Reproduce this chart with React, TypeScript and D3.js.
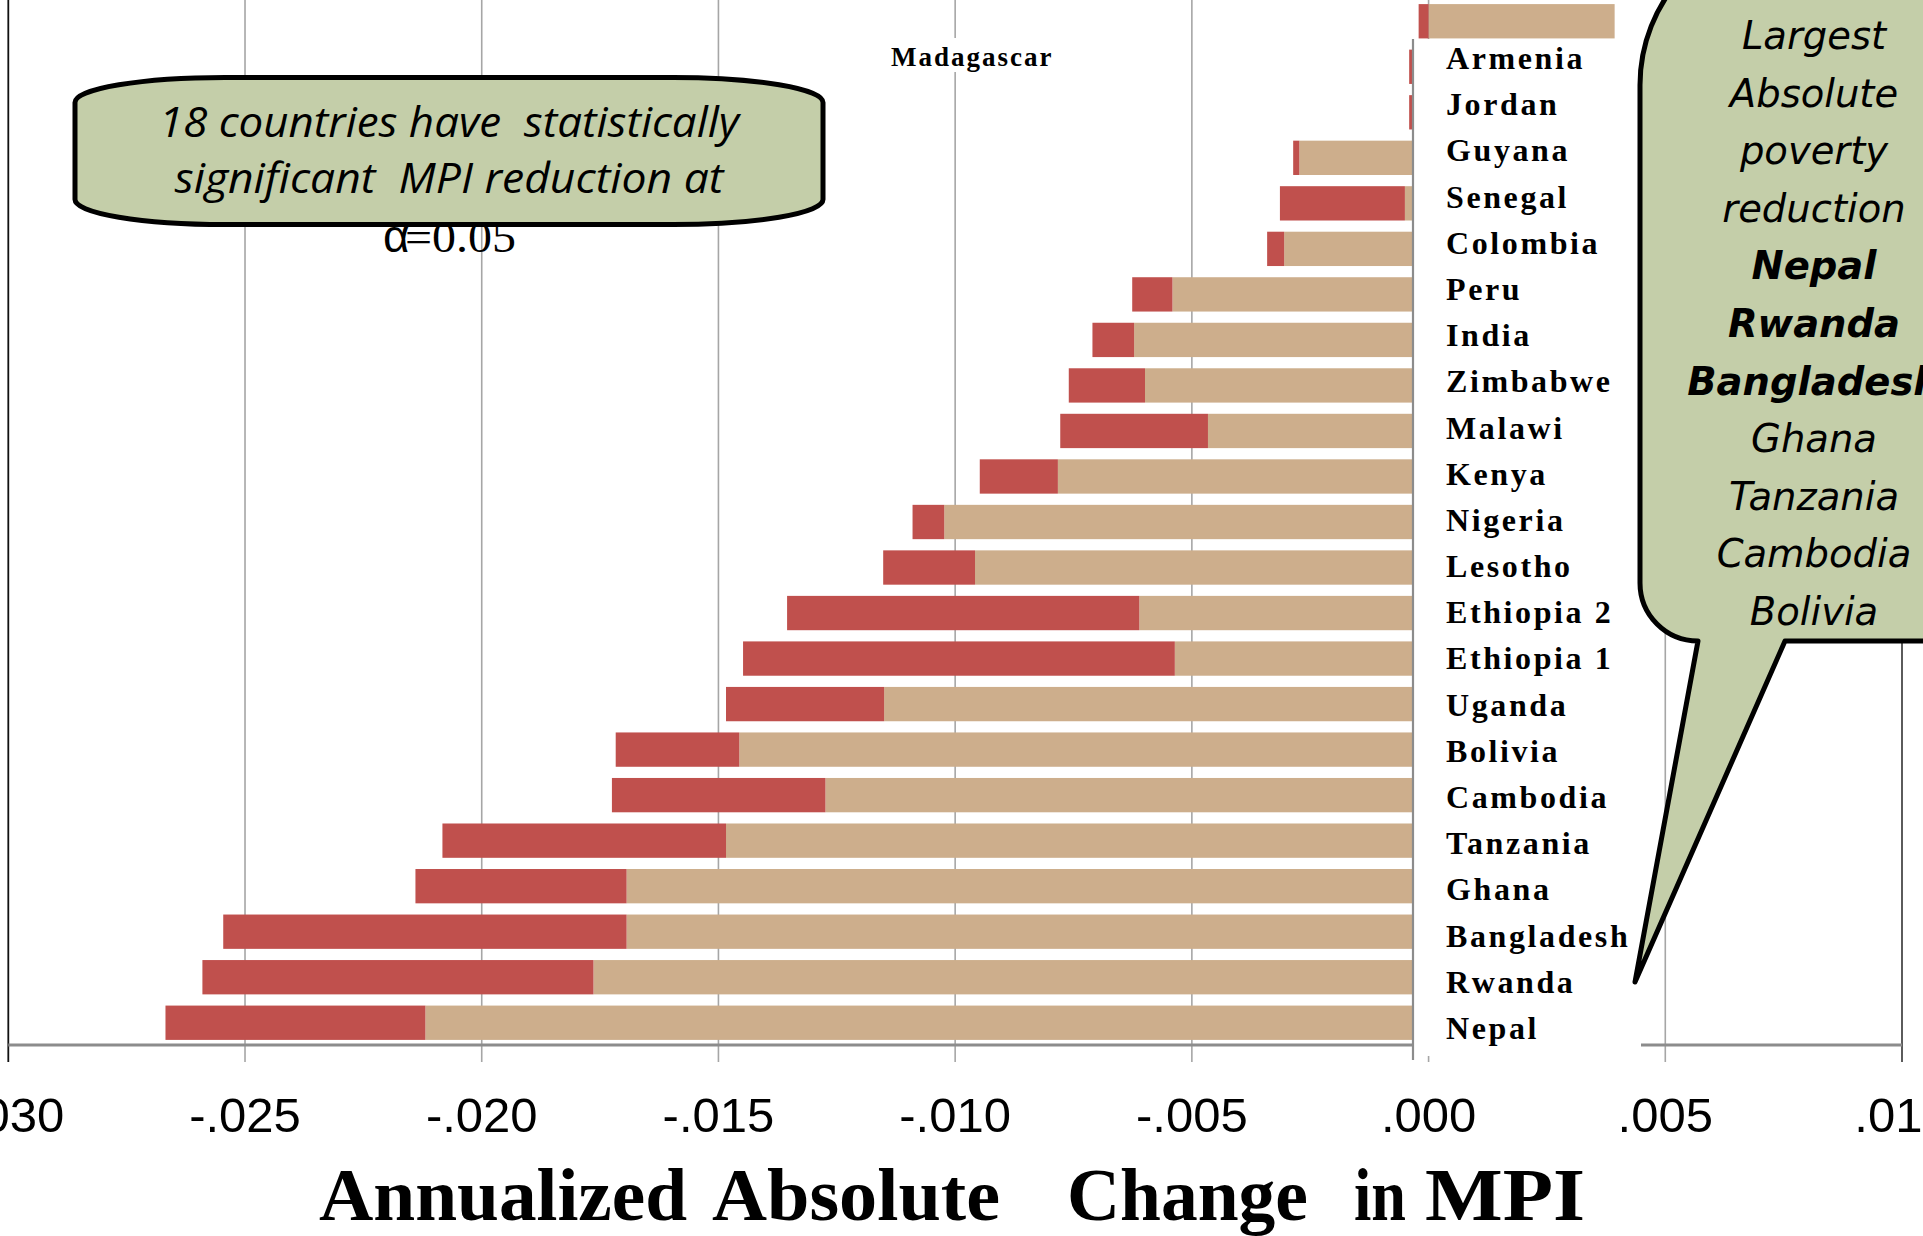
import React from "react";
import * as d3 from "d3";

// Countries from top to bottom of the chart
const countries = [
  "Madagascar", "Armenia", "Jordan", "Guyana", "Senegal", "Colombia", "Peru",
  "India", "Zimbabwe", "Malawi", "Kenya", "Nigeria", "Lesotho", "Ethiopia 2",
  "Ethiopia 1", "Uganda", "Bolivia", "Cambodia", "Tanzania", "Ghana",
  "Bangladesh", "Rwanda", "Nepal",
];

// First stacked component (tan), annualized absolute change in MPI
const tanValues = [
  0.00393, -0.0001, -0.0001, -0.00273, -0.0005, -0.00305, -0.00541,
  -0.00622, -0.00599, -0.00466, -0.00783, -0.01023, -0.00958, -0.00611,
  -0.00536, -0.0115, -0.01456, -0.01274, -0.01484, -0.01694,
  -0.01694, -0.01764, -0.02119,
];

// Second stacked component (red)
const redValues = [
  -0.00021, -0.00031, -0.00031, -0.00013, -0.00264, -0.00036, -0.00085,
  -0.00088, -0.00161, -0.00312, -0.00165, -0.00067, -0.00194, -0.00744,
  -0.00912, -0.00334, -0.00261, -0.00451, -0.00599, -0.00446,
  -0.00852, -0.00826, -0.00549,
];

const tickValues = [-0.03, -0.025, -0.02, -0.015, -0.01, -0.005, 0, 0.005, 0.01];
const tickLabels = ["-.030", "-.025", "-.020", "-.015", "-.010", "-.005", ".000", ".005", ".010"];

const titleWords = ["Annualized", "Absolute", "Change", "in", "MPI"];
const noteLines = ["18 countries have  statistically", "significant  MPI reduction at"];
const bubbleLines = [
  "Largest", "Absolute", "poverty", "reduction", "Nepal", "Rwanda",
  "Bangladesh", "Ghana", "Tanzania", "Cambodia", "Bolivia",
];
const bubbleBold = ["Nepal", "Rwanda", "Bangladesh"];

const W = 1923;
const H = 1236;
const axisY = 1045;
const RED = "#C0504D";
const TAN = "#CDAE8C";
const GREEN = "#C4CEA9";
const GRID = "#A6A6A6";

export default function App() {
  const x = d3.scaleLinear().domain([-0.03, 0.01]).range([8.3, 1902]);
  const y = d3
    .scaleBand<string>()
    .domain(countries)
    .range([-1.5, 1045.5])
    .paddingInner(0.246)
    .paddingOuter(0.123);

  const rows = countries.map((c, i) => ({ country: c, tan: tanValues[i], red: redValues[i] }));
  const stacked = d3
    .stack<any>()
    .keys(["tan", "red"])
    .offset(d3.stackOffsetDiverging)(rows);
  const fills: Record<string, string> = { tan: TAN, red: RED };

  // Category labels sit in the label column on their own even spacing
  const labelCountries = countries.slice(1);
  const ly = d3.scalePoint<string>().domain(labelCountries).range([69, 1039]);

  const bubbleY = d3.scalePoint<string>().domain(bubbleLines).range([49, 625]);

  const titleX = [319, 712, 1067, 1354, 1425];
  const titleW = [368, 288, 241, 52, 160];

  const bubblePath =
    "M 1785 641 L 1975 641 L 1975 -75 L 1800 -75 " +
    "A 160 160 0 0 0 1640 85 L 1640 583 A 58 58 0 0 0 1698 641 L 1635 982 Z";

  return (
    <svg
      width={W}
      height={H}
      style={{ position: "absolute", left: 0, top: 0, background: "#fff" }}
    >
      <rect x={0} y={0} width={W} height={H} fill="#fff" />

      {/* vertical gridlines and tick marks */}
      {tickValues.slice(1, -1).map((t) => (
        <line key={"g" + t} x1={x(t)} x2={x(t)} y1={0} y2={axisY + 17} stroke={GRID} strokeWidth={1.6} />
      ))}
      <line x1={x(-0.03)} x2={x(-0.03)} y1={0} y2={axisY + 17} stroke="#111" strokeWidth={1.8} />
      <line x1={x(0.01)} x2={x(0.01)} y1={0} y2={axisY + 17} stroke="#333" strokeWidth={1.6} />

      {/* stacked bars */}
      {stacked.map((s) =>
        s.map((d: any) => (
          <rect
            key={s.key + d.data.country}
            x={x(Math.min(d[0], d[1]))}
            y={y(d.data.country)}
            width={Math.abs(x(d[1]) - x(d[0]))}
            height={y.bandwidth()}
            fill={fills[s.key]}
          />
        ))
      )}

      {/* horizontal axis line */}
      <line x1={x(-0.03)} x2={x(0.01)} y1={axisY} y2={axisY} stroke="#8C8C8C" strokeWidth={3} />

      {/* category label column */}
      <rect x={1414} y={39} width={227} height={1017} fill="#fff" />
      <line x1={1413} x2={1413} y1={39} y2={1060} stroke="#8C8C8C" strokeWidth={2.2} />
      {labelCountries.map((c) => (
        <text
          key={"l" + c}
          x={1446}
          y={ly(c)}
          fontFamily="'Liberation Serif', serif"
          fontWeight="bold"
          fontSize={32}
          letterSpacing={2.6}
          fill="#000"
        >
          {c}
        </text>
      ))}

      {/* label of the first bar */}
      <rect x={886} y={38} width={173} height={34} fill="#fff" />
      <text
        x={891}
        y={65.5}
        fontFamily="'Liberation Serif', serif"
        fontWeight="bold"
        fontSize={27}
        letterSpacing={2}
        fill="#000"
      >
        {countries[0]}
      </text>

      {/* significance note */}
      <text x={383} y={251.5} fontFamily="'Liberation Sans', sans-serif" fontSize={46} fill="#000">
        α
      </text>
      <text
        x={405}
        y={251.5}
        fontFamily="'Liberation Serif', serif"
        fontSize={44}
        textLength={111}
        lengthAdjust="spacingAndGlyphs"
        fill="#000"
      >
        =0.05
      </text>
      <rect
        x={75}
        y={77.5}
        width={748}
        height={147}
        rx={150}
        ry={25}
        fill={GREEN}
        stroke="#000"
        strokeWidth={5}
      />
      {noteLines.map((t, i) => (
        <text
          key={"n" + i}
          x={449}
          y={[137, 193][i]}
          textAnchor="middle"
          fontFamily="'Open Sans', sans-serif"
          fontStyle="italic"
          fontSize={42}
          textLength={[580, 549][i]}
          lengthAdjust="spacingAndGlyphs"
          style={{ whiteSpace: "pre" }}
          fill="#000"
        >
          {t}
        </text>
      ))}

      {/* speech bubble */}
      <path d={bubblePath} fill={GREEN} stroke="#000" strokeWidth={5} strokeLinejoin="round" />
      {bubbleLines.map((t) => (
        <text
          key={"b" + t}
          x={1814}
          y={bubbleY(t)}
          textAnchor="middle"
          fontFamily="'DejaVu Sans', sans-serif"
          fontStyle="italic"
          fontWeight={bubbleBold.includes(t) ? "bold" : "normal"}
          fontSize={38.5}
          fill="#000"
        >
          {t}
        </text>
      ))}

      {/* tick labels */}
      {tickValues.map((t, i) => (
        <text
          key={"t" + t}
          x={x(t)}
          y={1132}
          textAnchor="middle"
          fontFamily="'Liberation Sans', sans-serif"
          fontSize={49}
          fill="#000"
        >
          {tickLabels[i]}
        </text>
      ))}

      {/* axis title */}
      {titleWords.map((w, i) => (
        <text
          key={"w" + w}
          x={titleX[i]}
          y={1220}
          fontFamily="'Liberation Serif', serif"
          fontWeight="bold"
          fontSize={73}
          textLength={titleW[i]}
          lengthAdjust="spacingAndGlyphs"
          fill="#000"
        >
          {w}
        </text>
      ))}
    </svg>
  );
}
